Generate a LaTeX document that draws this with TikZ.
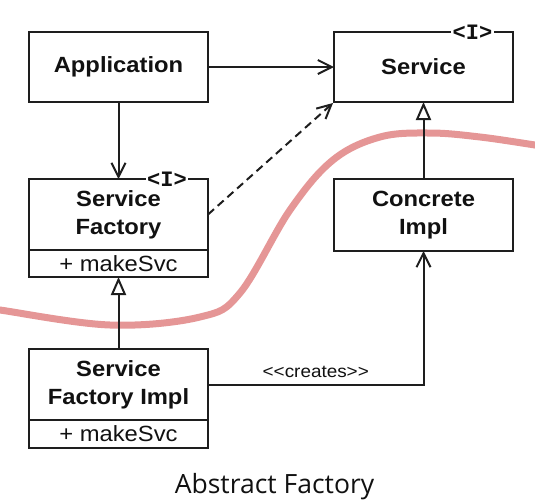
\documentclass[tikz,border=0pt]{standalone}
\usepackage{fontspec}
\setmainfont{Liberation Sans}[FakeStretch=1.08]
\newfontfamily\capfont{Open Sans}
\newfontfamily\ifacefont{Liberation Mono}
\usetikzlibrary{arrows.meta}
\definecolor{linec}{HTML}{1E1E1E}
\definecolor{txt}{HTML}{111111}
\definecolor{pinkline}{RGB}{229,150,150}
\begin{document}
\begin{tikzpicture}[x=1pt,y=-1pt,
  box/.style={draw=linec, line width=2pt, rectangle, minimum width=179pt,
    outer sep=0pt, inner sep=0pt, align=center, text=txt,
    font=\bfseries\fontsize{22}{28}\selectfont},
  comp/.style={box, font=\fontsize{22}{28}\selectfont},
  iface/.style={fill=white, inner xsep=1.5pt, inner ysep=0pt, text=txt,
    font=\ifacefont\bfseries\fontsize{22}{22}\selectfont},
  conn/.style={draw=linec, line width=2pt},
  openarrow/.style={conn, -{Straight Barb[length=14pt,width=14pt]}},
  realize/.style={conn, -{Triangle[open, fill=white, length=18pt, width=15pt]}},
  depend/.style={openarrow, dash pattern=on 8pt off 5pt},
  lbl/.style={text=txt, font=\fontsize{17.5}{20}\selectfont, inner sep=0pt}
]
\useasboundingbox (0,0) rectangle (535,501);
\clip (0,0) rectangle (535,501);

% boundary curve
\draw[pinkline, line width=7pt, line cap=round]
  plot[smooth, tension=0.6] coordinates {(-6,309) (0,310) (110,325) (200,317) (240,293) (290,210) (333,160) (380,137) (430,133) (480,137) (535,145) (541,146)};

% boxes
\node[box, minimum height=70pt] (app) at (118.5,67) {Application};
\node[box, minimum height=70pt] (svc) at (423.5,67) {Service};
\node[box, minimum height=71pt] (sf) at (118.5,214.5) {Service\\Factory};
\node[comp, minimum height=27pt, anchor=north] (sfc) at (sf.south) {+ makeSvc};
\node[box, minimum height=72pt] (ci) at (423.5,215) {Concrete\\Impl};
\node[box, minimum height=71pt] (sfi) at (118.5,384.5) {Service\\Factory Impl};
\node[comp, minimum height=28pt, anchor=north] (sfic) at (sfi.south) {+ makeSvc};

% interface markers
\node[iface] (svci) at ([xshift=-40.5pt]svc.north east) {<I>};
\node[iface] (sfi2) at ([xshift=-41pt]sf.north east) {<I>};

% connectors
\draw[openarrow] (app.east) -- (svc.west);
\draw[openarrow] (app.south) -- (sf.north);
\draw[depend] (sf.east) -- ([xshift=-1pt,yshift=-1pt]svc.south west);
\draw[realize] (ci.north) -- (svc.south);
\draw[realize] (sfi.north) -- (sfc.south);
\draw[openarrow] (sfi.east) -| (ci.south)
  node[lbl, pos=0.25, anchor=base, yshift=7pt] (cr) {<{}<creates>{}>};

% caption
\node[anchor=base, inner sep=0pt, text=txt, font=\capfont\fontsize{26.5}{30}\selectfont] (cap) at (274.5,493) {Abstract Factory};
\end{tikzpicture}
\end{document}
